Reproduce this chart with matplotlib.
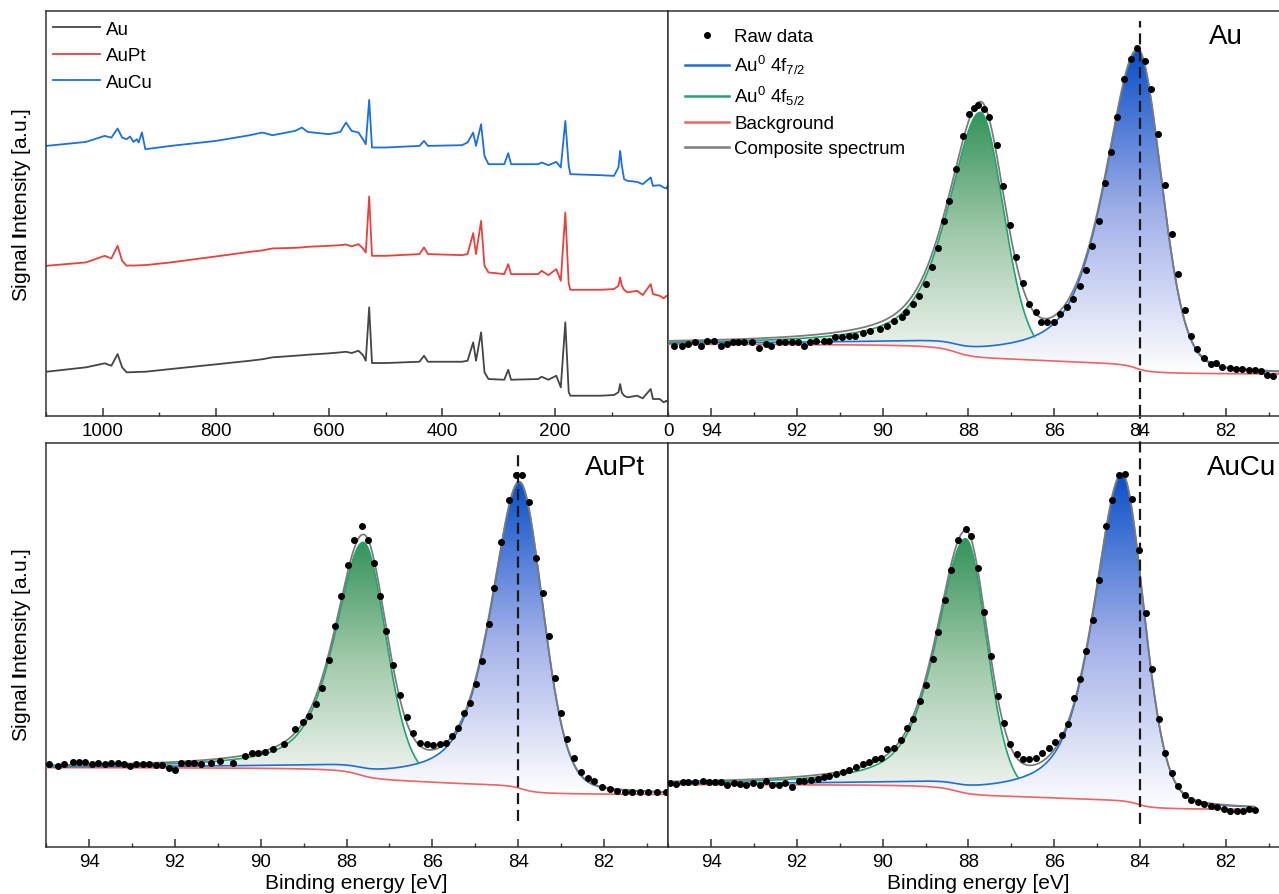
import numpy as np
import matplotlib
matplotlib.use("Agg")
import matplotlib.pyplot as plt
from matplotlib.patches import Polygon
from matplotlib.colors import LinearSegmentedColormap
from matplotlib.lines import Line2D
from matplotlib.ticker import MultipleLocator

plt.rcParams["font.family"] = ["Liberation Sans", "DejaVu Sans"]
plt.rcParams["mathtext.fontset"] = "custom"
plt.rcParams["mathtext.rm"] = "Liberation Sans"
plt.rcParams["mathtext.it"] = "Liberation Sans:italic"
plt.rcParams["mathtext.bf"] = "Liberation Sans:bold"

# ---------------------------------------------------------------- survey data
SURVEY_E = [1100, 1030, 997, 985, 974, 966, 958, 952, 946, 940, 937, 931, 925, 880,
            800, 740, 718, 700, 660, 648, 638, 600, 580, 570, 560, 548, 540, 535,
            529, 524, 500, 440, 432, 425, 365, 355, 345, 340, 331, 325, 318, 290,
            283, 278, 230, 224, 212, 198, 190, 182, 176, 173, 120, 96, 88, 85, 82,
            78, 72, 55, 45, 31, 27, 15, 8, 3, 0]
SURVEY_AU = [44.0, 48.4, 52.4, 50.0, 61.7, 48.4, 43.4, 43.5, 43.6, 43.7, 43.8, 43.9, 44.0, 46.7,
             51.4, 55.0, 56.5, 58.4, 60.0, 60.5, 61.0, 62.4, 63.4, 64.0, 62.7, 65.0, 60.7, 55.0,
             108.4, 52.7, 52.7, 54.0, 60.0, 54.0, 54.0, 55.0, 73.4, 55.0, 83.4, 43.4, 36.7, 36.0,
             46.0, 36.0, 36.7, 39.0, 36.0, 40.0, 28.4, 93.4, 23.4, 20.0, 20.0, 20.7, 23.4, 31.7, 23.0,
             20.0, 18.4, 20.0, 17.4, 26.7, 16.7, 16.7, 13.4, 15.0, 12.7]
SURVEY_AUPT = [150.0, 153.4, 160.0, 157.4, 170.0, 155.0, 150.0, 150.4, 150.2, 150.4, 150.5, 150.6, 150.7, 153.4,
               159.4, 164.0, 165.4, 167.4, 168.0, 168.4, 169.0, 170.0, 170.7, 171.4, 169.4, 171.7, 167.4, 163.4,
               219.4, 160.0, 160.0, 161.7, 168.4, 161.7, 160.7, 161.7, 182.7, 161.7, 195.0, 150.0, 143.4, 141.7,
               151.7, 141.7, 141.7, 145.0, 140.7, 146.7, 135.0, 203.4, 131.7, 126.0, 126.0, 126.7, 130.0, 138.4, 130.0,
               126.0, 123.4, 125.0, 120.7, 131.7, 121.7, 120.0, 117.4, 120.0, 118.4]
SURVEY_AUCU = [270.0, 274.0, 280.0, 278.3, 287.4, 278.3, 276.7, 279.4, 274.0, 276.7, 273.4, 283.4, 266.7, 270.0,
               275.0, 280.7, 283.4, 280.7, 285.0, 288.4, 284.0, 281.7, 284.0, 293.4, 285.0, 283.4, 276.7, 271.7,
               316.0, 268.4, 268.4, 270.0, 275.0, 270.0, 270.7, 273.4, 283.4, 270.0, 291.7, 260.0, 251.7, 251.7,
               262.7, 251.7, 251.7, 253.4, 250.7, 254.0, 248.4, 295.0, 250.0, 241.7, 240.7, 240.0, 248.4, 265.0, 250.0,
               236.7, 235.0, 234.0, 231.7, 238.4, 230.0, 230.7, 228.4, 227.4, 231.7]
SURVEY_LABELS = ["Au", "AuPt", "AuCu"]
SURVEY_COLORS = ["#454545", "#e8403c", "#1c6fe0"]

# ---------------------------------------------------------------- Au 4f raw data
AU_E = [94.86, 94.68, 94.55, 94.37, 94.23, 94.09, 93.93, 93.78, 93.64, 93.50,
        93.37, 93.23, 93.05, 92.89, 92.73, 92.60, 92.42, 92.28, 92.12, 91.98,
        91.83, 91.69, 91.55, 91.37, 91.24, 91.10, 90.95, 90.78, 90.65, 90.47,
        90.29, 90.06, 89.90, 89.74, 89.56, 89.45, 89.29, 89.15, 89.00, 88.84,
        88.70, 88.56, 88.45, 88.29, 88.13, 87.99, 87.86, 87.77, 87.64, 87.51,
        87.34, 87.19, 87.04, 86.89, 86.73, 86.59, 86.43, 86.30, 86.16, 86.01,
        85.87, 85.71, 85.57, 85.41, 85.27, 85.12, 84.96, 84.82, 84.68, 84.53,
        84.37, 84.21, 84.06, 83.89, 83.74, 83.58, 83.42, 83.26, 83.12, 82.96,
        82.81, 82.67, 82.51, 82.35, 82.22, 82.08, 81.90, 81.76, 81.63, 81.46,
        81.31, 81.17, 81.04, 80.90]
AU_I = [70.0, 69.4, 71.7, 73.4, 70.0, 74.4, 74.4, 70.0, 71.7, 73.4,
        74.0, 73.4, 73.4, 67.7, 71.7, 70.0, 73.4, 74.0, 74.0, 74.0,
        70.0, 73.4, 74.4, 75.0, 75.0, 78.4, 78.4, 79.4, 79.4, 82.4,
        84.4, 86.7, 90.0, 94.4, 98.4, 103.4, 111.7, 119.4, 131.7, 148.4,
        167.4, 195.0, 215.0, 246.7, 280.0, 301.7, 308.4, 310.7, 307.4, 299.4,
        271.0, 230.0, 191.0, 158.4, 132.7, 111.7, 104.0, 94.0, 94.0, 94.0,
        101.7, 108.4, 116.7, 129.4, 146.0, 170.0, 195.0, 232.4, 263.4, 299.4,
        336.7, 356.7, 368.4, 355.0, 327.4, 281.7, 230.7, 181.7, 141.7, 105.7,
        80.0, 66.7, 57.4, 51.7, 52.4, 49.0, 47.4, 46.7, 46.7, 46.0,
        45.4, 45.0, 40.7, 40.0]

AUPT_E = [94.94, 94.74, 94.59, 94.39, 94.24, 94.09, 93.94, 93.79, 93.64, 93.49,
          93.34, 93.20, 93.05, 92.90, 92.75, 92.60, 92.45, 92.30, 92.15, 92.00,
          91.85, 91.70, 91.55, 91.40, 91.16, 90.96, 90.66, 90.36, 90.21, 90.06,
          89.91, 89.71, 89.46, 89.21, 89.02, 88.87, 88.72, 88.57, 88.42, 88.27,
          88.12, 87.97, 87.82, 87.65, 87.50, 87.35, 87.23, 87.08, 86.91, 86.76,
          86.58, 86.45, 86.28, 86.13, 85.98, 85.83, 85.68, 85.55, 85.40, 85.26,
          85.13, 84.98, 84.84, 84.69, 84.56, 84.39, 84.22, 84.04, 83.92, 83.74,
          83.59, 83.42, 83.29, 83.15, 83.00, 82.85, 82.70, 82.53, 82.37, 82.23,
          82.05, 81.85, 81.70, 81.50, 81.35, 81.16, 80.96, 80.76, 80.56]
AUPT_I = [83.0, 80.7, 83.0, 85.7, 85.7, 85.7, 83.0, 84.7, 83.0, 84.7,
          84.7, 83.0, 81.3, 83.0, 83.0, 83.0, 82.3, 82.3, 78.7, 77.3,
          84.7, 84.7, 84.7, 83.0, 84.0, 86.3, 84.7, 91.3, 94.0, 94.0,
          95.3, 98.0, 103.0, 118.0, 125.3, 131.3, 143.0, 159.7, 187.0, 221.3,
          251.3, 282.3, 308.0, 322.0, 308.0, 284.7, 252.0, 216.3, 182.0, 152.3,
          130.7, 114.0, 104.7, 103.0, 102.0, 103.0, 104.7, 111.3, 119.7, 134.7,
          144.0, 163.0, 186.3, 224.0, 259.7, 305.3, 348.0, 373.0, 373.0, 346.3,
          289.7, 254.7, 211.3, 169.7, 134.7, 108.0, 89.7, 74.7, 68.7, 66.3,
          59.7, 58.0, 56.3, 55.3, 55.3, 54.7, 55.3, 54.7, 54.7]

AUCU_E = [94.95, 94.82, 94.66, 94.53, 94.37, 94.20, 94.05, 93.91, 93.78, 93.62,
          93.46, 93.32, 93.19, 93.02, 92.87, 92.72, 92.57, 92.42, 92.28, 92.12,
          91.96, 91.83, 91.66, 91.51, 91.37, 91.24, 91.08, 90.92, 90.78, 90.63,
          90.47, 90.31, 90.18, 90.03, 89.90, 89.74, 89.58, 89.44, 89.29, 89.13,
          88.99, 88.83, 88.70, 88.54, 88.40, 88.25, 88.06, 87.93, 87.77, 87.64,
          87.48, 87.32, 87.18, 87.02, 86.87, 86.73, 86.59, 86.43, 86.28, 86.13,
          85.98, 85.83, 85.68, 85.53, 85.39, 85.25, 85.10, 84.95, 84.80, 84.66,
          84.50, 84.35, 84.19, 84.03, 83.87, 83.71, 83.56, 83.41, 83.26, 83.11,
          82.96, 82.81, 82.65, 82.51, 82.35, 82.20, 82.05, 81.90, 81.75, 81.60,
          81.45, 81.33]
AUCU_I = [64.0, 63.0, 65.3, 65.3, 65.3, 66.3, 64.7, 65.3, 65.3, 62.0,
          64.0, 63.0, 62.0, 64.0, 62.0, 66.3, 62.0, 62.0, 64.0, 59.7,
          66.3, 66.3, 67.3, 68.0, 69.7, 71.3, 73.0, 74.7, 77.3, 79.7,
          83.0, 85.3, 88.0, 89.7, 98.0, 99.7, 107.3, 119.7, 128.7, 146.3,
          162.0, 188.0, 215.3, 248.0, 278.0, 308.0, 318.7, 311.3, 279.7, 235.3,
          191.3, 151.3, 124.7, 103.0, 93.0, 88.0, 88.0, 89.7, 94.0, 99.7,
          105.3, 112.0, 123.0, 149.7, 168.0, 196.3, 228.0, 268.0, 321.3, 348.0,
          373.0, 373.7, 348.7, 298.0, 234.7, 178.0, 128.0, 94.7, 74.0, 60.7,
          52.0, 47.3, 45.3, 42.7, 40.7, 39.7, 38.0, 36.3, 36.3, 36.3,
          38.0, 37.3]

# ---------------------------------------------------------------- fit results
# peak: [centre eV, height, half-width high-BE side, half-width low-BE side,
#        Lorentz fraction high-BE side, Lorentz fraction low-BE side]
AU_F72 = [84.04, 318, 0.90, 0.64, 0.6, 0.2]
AU_F52 = [87.72, 245, 0.88, 0.64, 0.6, 0.2]
AUPT_F72 = [83.96, 306, 0.78, 0.64, 0.6, 0.2]
AUPT_F52 = [87.60, 234, 0.78, 0.62, 0.6, 0.2]
AUCU_F72 = [84.42, 327, 0.77, 0.60, 0.6, 0.2]
AUCU_F52 = [88.06, 255, 0.80, 0.58, 0.6, 0.2]
# background: low-BE level and steps [centre eV, height, width]
AU_BG_BASE = 41.0
AU_BG_STEPS = [[88.3, 15, 0.35], [86.0, 5, 1.0], [84.1, 11, 0.25]]
AUPT_BG_BASE = 52.0
AUPT_BG_STEPS = [[87.7, 13, 0.35], [86.0, 5, 1.0], [83.9, 10, 0.25]]
AUCU_BG_BASE = 37.0
AUCU_BG_STEPS = [[88.3, 12, 0.35], [86.0, 4, 1.0], [84.05, 10, 0.25]]
# energy span of each fitted envelope
AU_FIT_RANGE = [95.0, 80.6]
AUPT_FIT_RANGE = [95.0, 80.4]
AUCU_FIT_RANGE = [95.0, 81.33]
REF_ENERGY = 84.0

C_72 = "#1f6ed6"
C_52 = "#22a46c"
C_BG = "#f06262"
C_SUM = "#7c7c7c"
C_SPINE = "#333333"

BLUE_CMAP = LinearSegmentedColormap.from_list("b4f", ["#ffffff", "#a2b0e8", "#0a50c8"])
GREEN_CMAP = LinearSegmentedColormap.from_list("g4f", ["#eef3ee", "#a0c9aa", "#35935a"])


def peak(e, p):
    c, h, w_hi, w_lo, eta_hi, eta_lo = p
    d = e - c
    w = np.where(d > 0, w_hi, w_lo)
    eta = np.where(d > 0, eta_hi, eta_lo)
    x = (d / w) ** 2
    return h * (eta / (1 + x) + (1 - eta) * np.exp(-np.log(2) * x))


def background(e, base, steps):
    b = np.full_like(e, base, dtype=float)
    for c, s, w in steps:
        b += s * (0.5 + np.arctan((e - c) / w) / np.pi)
    return b


def gradient_fill(ax, x, top, bottom, cmap, lo, hi, z):
    verts = np.concatenate([np.column_stack([x, top]),
                            np.column_stack([x[::-1], bottom[::-1]])])
    poly = Polygon(verts, closed=True, facecolor="none", edgecolor="none")
    ax.add_patch(poly)
    ramp = np.linspace(0, 1, 256).reshape(-1, 1)
    im = ax.imshow(ramp, cmap=cmap, origin="lower", aspect="auto",
                   extent=(x.min(), x.max(), lo, hi), zorder=z,
                   interpolation="bilinear")
    im.set_clip_path(poly)


W, H = 1279, 895
fig = plt.figure(figsize=(W / 100, H / 100), dpi=100)


def px_axes(x0, y0, x1, y1):
    return fig.add_axes([x0 / W, 1 - y1 / H, (x1 - x0) / W, (y1 - y0) / H])


def style(ax, major, minor, xlim):
    for s in ax.spines.values():
        s.set_color(C_SPINE)
        s.set_linewidth(1.1)
    ax.set_yticks([])
    ax.xaxis.set_major_locator(MultipleLocator(major))
    ax.xaxis.set_minor_locator(MultipleLocator(minor))
    ax.tick_params(axis="x", which="major", direction="in", length=5.5, width=1.1,
                   color=C_SPINE, labelsize=13.5, pad=4.5)
    ax.tick_params(axis="x", which="minor", direction="in", length=3, width=1.0,
                   color=C_SPINE)
    ax.set_xlim(*xlim)
    ax.set_ylim(0, 405)


ax_s = px_axes(46.4, 12, 668.2, 416.7)
ax_au = px_axes(668.2, 12, 1282, 416.7)
ax_pt = px_axes(46.4, 444, 668.2, 848)
ax_cu = px_axes(668.2, 444, 1282, 848)

# ---------------------------------------------------------------- survey panel
for vals, lab, col in zip([SURVEY_AU, SURVEY_AUPT, SURVEY_AUCU], SURVEY_LABELS, SURVEY_COLORS):
    ax_s.plot(SURVEY_E, vals, color=col, lw=1.3, label=lab)
style(ax_s, 200, 100, (1100, 0))
ax_s.legend(loc="upper left", bbox_to_anchor=(0.0106, 0.976), frameon=False,
            fontsize=13.5, handlelength=2.5, handletextpad=0.35, labelspacing=0.5,
            borderpad=0, borderaxespad=0)


# ---------------------------------------------------------------- fitted panels
def fit_panel(ax, e_raw, i_raw, f72, f52, bg_base, bg_steps, fit_range, xlim, vline):
    e = np.linspace(fit_range[0], fit_range[1], 1500)
    bg = background(e, bg_base, bg_steps)
    p72 = peak(e, f72)
    p52 = peak(e, f52)
    blue = bg + p72
    green = bg + p52
    total = bg + p72 + p52

    # green component is shown up to where it meets the 4f7/2 curve
    cross = np.where((e < f52[0]) & (p52 < p72))[0][0]
    e_cross = e[cross]
    green_top = np.where(e >= e_cross, np.maximum(green, blue), blue)

    gradient_fill(ax, e, blue, bg, BLUE_CMAP, bg.min(), blue.max(), 1)
    gradient_fill(ax, e, green_top, blue, GREEN_CMAP, bg_base + 20, green.max(), 1.5)

    ax.plot(e, bg, color=C_BG, lw=1.2, zorder=3)
    ax.plot(e, blue, color=C_72, lw=1.2, zorder=3)
    ax.plot(e[e >= e_cross], green[e >= e_cross], color=C_52, lw=1.2, zorder=3)
    ax.plot(e, total, color=C_SUM, lw=1.3, zorder=4)
    ax.plot([REF_ENERGY, REF_ENERGY], vline[:2], color="#1a1a1a", lw=1.6,
            ls=(0, (5, 2.6)), zorder=5, clip_on=vline[2])
    ax.plot(e_raw, i_raw, ls="none", marker="o", ms=4.0, color="black", zorder=6)
    style(ax, 2, 1, xlim)


fit_panel(ax_au, AU_E, AU_I, AU_F72, AU_F52, AU_BG_BASE, AU_BG_STEPS,
          AU_FIT_RANGE, (95, 80.69), (0, 395, True))
fit_panel(ax_pt, AUPT_E, AUPT_I, AUPT_F72, AUPT_F52, AUPT_BG_BASE, AUPT_BG_STEPS,
          AUPT_FIT_RANGE, (95, 80.5), (26, 395, True))
fit_panel(ax_cu, AUCU_E, AUCU_I, AUCU_F72, AUCU_F52, AUCU_BG_BASE, AUCU_BG_STEPS,
          AUCU_FIT_RANGE, (95, 80.69), (23, 431, False))

handles = [
    Line2D([], [], ls="none", marker="o", ms=4.0, color="black"),
    Line2D([], [], color=C_72, lw=1.8),
    Line2D([], [], color=C_52, lw=1.8),
    Line2D([], [], color=C_BG, lw=1.8),
    Line2D([], [], color=C_SUM, lw=1.8),
]
labels = ["Raw data", r"Au$^0$ 4f$_{7/2}$", r"Au$^0$ 4f$_{5/2}$", "Background",
          "Composite spectrum"]
ax_au.legend(handles, labels, loc="upper left", bbox_to_anchor=(0.028, 0.958),
             frameon=False, fontsize=13.5, handlelength=2.3, handletextpad=0.3,
             labelspacing=0.42, borderpad=0, borderaxespad=0)

# ---------------------------------------------------------------- annotations
fig.text(1209 / W, 1 - 37 / H, "Au", fontsize=20, ha="left", va="center")
fig.text(585 / W, 1 - 468 / H, "AuPt", fontsize=20, ha="left", va="center")
fig.text(1207 / W, 1 - 468 / H, "AuCu", fontsize=20, ha="left", va="center")

ylab = r"Signal $\mathbf{I}$ntensity [a.u.]"
fig.text(22 / W, 1 - 205 / H, ylab, fontsize=15, rotation=90, ha="center", va="center")
fig.text(22 / W, 1 - 645 / H, ylab, fontsize=15, rotation=90, ha="center", va="center")
fig.text(356 / W, 1 - 884 / H, "Binding energy [eV]", fontsize=15, ha="center", va="center")
fig.text(978 / W, 1 - 884 / H, "Binding energy [eV]", fontsize=15, ha="center", va="center")

fig.savefig("out.png", dpi=100, facecolor="white")
